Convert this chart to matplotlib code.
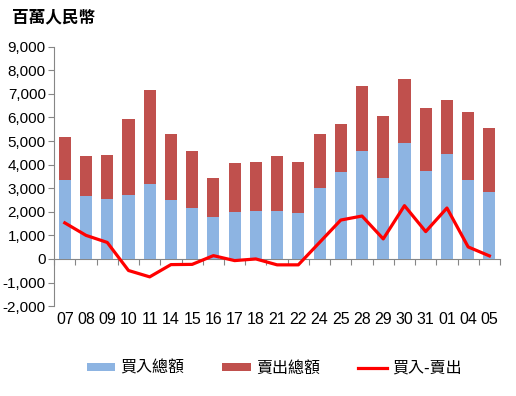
import numpy as np
import matplotlib.pyplot as plt
from matplotlib.ticker import FuncFormatter

plt.rcParams['font.family'] = ['Liberation Sans Narrow', 'Liberation Sans', 'DejaVu Sans']

days = ["07", "08", "09", "10", "11", "14", "15", "16", "17", "18", "21",
        "22", "24", "25", "28", "29", "30", "31", "01", "04", "05"]
buy = [3360, 2680, 2560, 2730, 3190, 2510, 2180, 1790, 2010, 2050, 2050,
       1930, 3020, 3700, 4590, 3450, 4930, 3740, 4460, 3360, 2850]
sell = [1820, 1700, 1860, 3220, 3990, 2800, 2410, 1650, 2070, 2070, 2330,
        2190, 2290, 2030, 2750, 2620, 2710, 2670, 2290, 2880, 2710]
net = [1530, 1000, 700, -490, -760, -240, -230, 140, -70, 0, -250,
       -250, 700, 1650, 1820, 850, 2260, 1160, 2160, 510, 130]

cjk = ['Noto Sans CJK TC', 'DejaVu Sans']

fig = plt.figure(figsize=(5.16, 3.96), dpi=100)
ax = fig.add_axes([0.105, 0.227, 0.864, 0.655])

x = np.arange(len(days))
b1 = ax.bar(x, buy, width=0.57, color="#8DB4E2", label="買入總額")
b2 = ax.bar(x, sell, width=0.57, bottom=buy, color="#C0504D", label="賣出總額")
l1, = ax.plot(x, net, color="#FF0000", linewidth=2.3, label="買入-賣出")

ax.set_xlim(-0.5, len(days) - 0.5)
ax.set_ylim(-2000, 9000)
ax.set_yticks(range(-2000, 9001, 1000))
ax.yaxis.set_major_formatter(FuncFormatter(lambda v, p: f"{int(v):,}"))
ax.tick_params(axis="y", direction="out", length=4, color="#868686", labelsize=11, pad=2)

ax.set_xticks(x)
ax.set_xticklabels(days)
ax.tick_params(axis="x", length=0, labelsize=11.5, pad=4)

for s in ["top", "right", "bottom"]:
    ax.spines[s].set_visible(False)
ax.spines["left"].set_color("#868686")

# zero line with category boundary ticks
zero = ax.secondary_xaxis(2 / 11)
zero.set_xticks(np.arange(-0.5, len(days), 1.0))
zero.set_xticklabels([])
zero.tick_params(direction="out", length=4, color="#868686")
zero.spines["bottom"].set_color("#868686")

fig.text(0.023, 0.955, "百萬人民幣", fontsize=12, fontweight="bold", family=cjk, va="center")

leg = fig.legend(handles=[b1, b2, l1], loc="center", bbox_to_anchor=(0.531, 0.07), ncol=3,
                 frameon=False, prop={'family': cjk, 'size': 11.5}, handlelength=1.8,
                 handleheight=0.45, columnspacing=2.4, handletextpad=0.3)

fig.savefig("out.png", dpi=100)
